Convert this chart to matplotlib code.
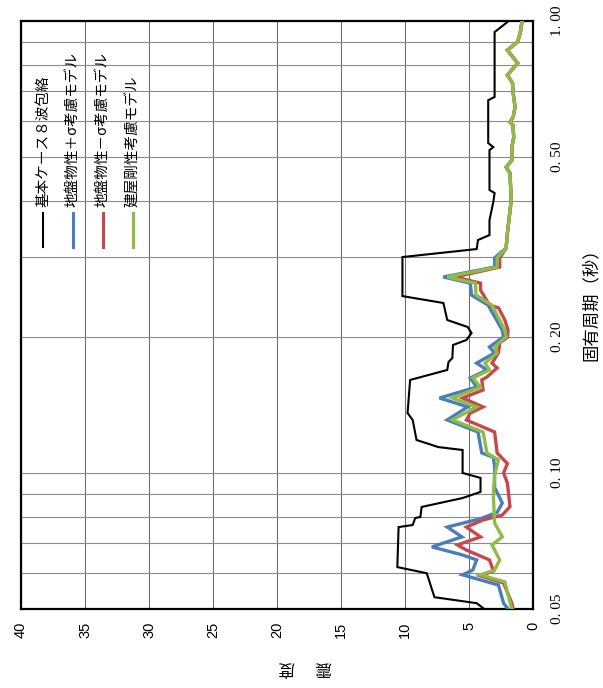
import matplotlib
matplotlib.use("Agg")
import matplotlib.pyplot as plt
from matplotlib.lines import Line2D

plt.rcParams['font.family'] = ['Noto Sans CJK JP', 'DejaVu Sans']

# ---- data: natural period (s) and seismic coefficient ----
upper_t = [0.3145, 0.339, 0.402, 0.461, 0.475, 0.492, 0.526, 0.553, 0.574, 0.588,
           0.597, 0.613, 0.645, 0.693, 0.729, 0.759, 0.807, 0.862, 0.899, 0.941, 1.0]
upper_v = [2.1, 2.0, 1.7, 1.8, 2.1, 1.65, 1.65, 1.5, 1.55, 1.55,
           1.8, 1.55, 1.4, 1.55, 1.6, 2.0, 1.2, 2.0, 1.2, 1.0, 0.85]

t_base = [0.050, 0.0515, 0.0531, 0.0600, 0.0619, 0.0759, 0.0767, 0.0795, 0.0799, 0.0841,
          0.0880, 0.0908, 0.0975, 0.1000, 0.1124, 0.1141, 0.1183, 0.1310, 0.1357, 0.1606,
          0.1690, 0.1760, 0.1796, 0.1919, 0.1969, 0.2040, 0.2103, 0.2180, 0.2377, 0.2462,
          0.3004, 0.3129, 0.3276, 0.3360, 0.3627, 0.3977, 0.4163, 0.4227, 0.518, 0.526,
          0.537, 0.668, 0.679, 0.945, 1.0]
v_base = [3.8, 4.4, 7.7, 8.3, 10.6, 10.5, 9.4, 9.2, 8.8, 8.7,
          5.5, 4.1, 4.1, 5.5, 5.5, 7.4, 9.1, 9.4, 9.8, 9.6,
          6.7, 6.6, 6.3, 6.25, 5.2, 4.8, 5.1, 6.7, 7.0, 10.2,
          10.2, 4.4, 4.3, 3.4, 3.4, 3.1, 3.0, 3.4, 3.4, 3.1,
          3.5, 3.5, 3.0, 3.0, 1.9]

t_plus = [0.050, 0.0515, 0.0565, 0.0595, 0.061, 0.0642, 0.0659, 0.0686, 0.0722, 0.0759,
          0.0787, 0.0790, 0.0818, 0.0858, 0.0929, 0.1036, 0.1083, 0.1107, 0.1232, 0.131,
          0.140, 0.1465, 0.1549, 0.1622, 0.169, 0.175, 0.1843, 0.190, 0.200, 0.207,
          0.235, 0.2475, 0.263, 0.2714, 0.2855, 0.299] + upper_t
v_plus = [1.95, 2.3, 2.7, 5.5, 4.7, 4.4, 5.55, 7.9, 5.55, 6.7,
          4.5, 4.2, 2.8, 2.4, 3.0, 3.0, 3.1, 4.0, 4.3, 6.7,
          5.1, 7.3, 4.4, 4.9, 3.6, 4.4, 3.0, 3.4, 2.3, 2.4,
          3.5, 4.8, 4.9, 7.0, 3.0, 3.0] + upper_v

t_minus = [0.050, 0.0515, 0.0571, 0.0592, 0.0607, 0.0642, 0.0675, 0.0693, 0.0722, 0.0759,
           0.0787, 0.0807, 0.0842, 0.095, 0.100, 0.1049, 0.1107, 0.1232, 0.131, 0.1357,
           0.140, 0.1465, 0.1526, 0.1606, 0.163, 0.1707, 0.175, 0.1843, 0.194, 0.1995,
           0.207, 0.218, 0.232, 0.235, 0.254, 0.263, 0.2714, 0.2855, 0.299] + upper_t
v_minus = [1.55, 1.65, 2.3, 4.1, 3.1, 3.4, 5.2, 5.9, 4.1, 5.2,
           3.9, 2.4, 1.8, 2.0, 2.3, 2.0, 2.8, 3.0, 5.2, 4.9,
           3.9, 5.5, 3.9, 4.0, 3.6, 2.8, 3.2, 2.7, 2.6, 2.0,
           1.95, 2.2, 2.7, 3.4, 4.1, 4.1, 6.1, 2.6, 2.6] + upper_v

t_bldg = [0.050, 0.0537, 0.0574, 0.0595, 0.061, 0.0642, 0.0693, 0.0722, 0.0775, 0.0894,
          0.099, 0.1069, 0.1107, 0.1232, 0.131, 0.140, 0.1465, 0.1549, 0.1622, 0.169,
          0.175, 0.1843, 0.190, 0.200, 0.207, 0.235, 0.2475, 0.263, 0.2714, 0.2855,
          0.299] + upper_t
v_bldg = [1.65, 1.95, 2.2, 4.1, 3.0, 2.6, 3.2, 2.4, 3.0, 3.1,
          3.0, 2.7, 3.6, 3.9, 6.3, 4.4, 6.3, 4.1, 4.7, 3.4,
          3.75, 2.8, 3.0, 2.1, 2.2, 3.2, 4.45, 4.5, 6.7, 2.8,
          2.8] + upper_v

series_names = ["基本ケース８波包絡", "地盤物性＋σ考慮モデル", "地盤物性－σ考慮モデル", "建屋剛性考慮モデル"]
series_colors = ["#000000", "#4a7ebb", "#c8474a", "#8fbc45"]
series_widths = [1.5, 2.4, 2.4, 2.4]

value_ticks = list(range(0, 41, 5))
period_major = [0.05, 0.1, 0.2, 0.5, 1.0]
period_labels = ["0. 05", "0. 10", "0. 20", "0. 50", "1. 00"]
period_minor = [0.06, 0.07, 0.08, 0.09, 0.3, 0.4, 0.6, 0.7, 0.8, 0.9]

fig = plt.figure(figsize=(6.03, 6.88), dpi=100)
ax = fig.add_axes([21 / 603, 1 - 609 / 688, 512 / 603, 588 / 688])

# chart is laid out turned a quarter turn: value runs horizontally, period vertically
curves = [(t_base, v_base), (t_plus, v_plus), (t_minus, v_minus), (t_bldg, v_bldg)]
for (t, v), c, lw in zip(curves, series_colors, series_widths):
    ax.plot(v, t, color=c, lw=lw, solid_joinstyle='miter', zorder=3)

ax.set_yscale('log')
ax.set_xlim(40, 0)
ax.set_ylim(0.05, 1.0)

ax.set_xticks(value_ticks)
ax.set_xticklabels([str(v) for v in value_ticks], rotation=90,
                   family=['Liberation Sans'], fontsize=10.5)
ax.set_yticks(period_major)
ax.set_yticks(period_minor, minor=True)
ax.set_yticklabels(period_labels, rotation=90, va='center',
                   family=['Liberation Serif'], fontsize=11)
ax.yaxis.set_minor_formatter(plt.NullFormatter())
ax.yaxis.tick_right()
ax.tick_params(axis='x', length=0, pad=9)
ax.tick_params(axis='y', which='both', length=0, pad=13)

ax.grid(axis='x', color='#6f6f6f', lw=0.8)
ax.grid(axis='y', which='both', color='#8a8a8a', lw=0.8)
ax.set_axisbelow(True)
for s in ax.spines.values():
    s.set_color('black')
    s.set_linewidth(1.6)

# legend entries written along the period direction
leg_x = [0.043, 0.102, 0.160, 0.219]
for xf, name, c, lw in zip(leg_x, series_names, series_colors, series_widths):
    ax.add_line(Line2D([xf, xf], [0.616, 0.673], transform=ax.transAxes,
                       color=c, lw=lw if lw < 2 else 2.2, zorder=4))
    ax.text(xf, 0.684, name, transform=ax.transAxes, rotation=90,
            ha='center', va='bottom', fontsize=10.5, zorder=4)

fig.text(591 / 603, 1 - 300 / 688, "固有周期（秒）", rotation=90,
         ha='center', va='center', fontsize=12.5)
fig.text(305 / 603, 1 - 668 / 688, "震\u3000 度", rotation=180,
         ha='center', va='center', fontsize=12)

fig.savefig("out.png", dpi=100)
